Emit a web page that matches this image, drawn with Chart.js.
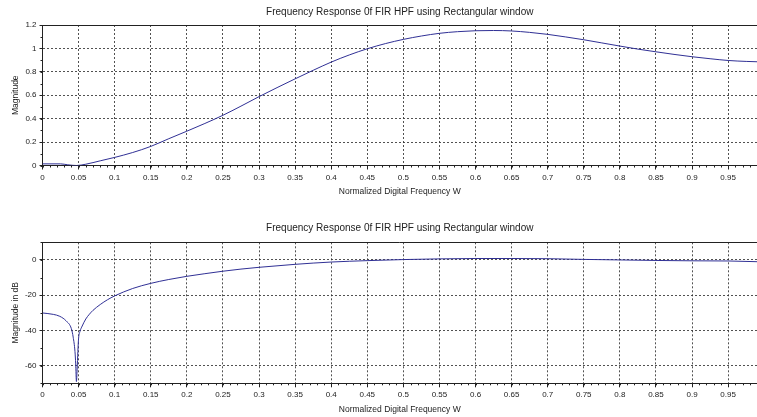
<!DOCTYPE html>
<html>
<head>
<meta charset="utf-8">
<script src="https://cdn.jsdelivr.net/npm/chart.js@4/dist/chart.umd.min.js"></script>
<style>
  html, body { margin: 0; padding: 0; background: #fff; }
  #wrap { position: relative; width: 757px; height: 417px; overflow: hidden; }
  #c1 { position: absolute; left: 0; top: 0; }
  #c2 { position: absolute; left: 0; top: 208px; }
</style>
</head>
<body>
<div id="wrap">
  <canvas id="c1" width="757" height="208"></canvas>
  <canvas id="c2" width="757" height="209"></canvas>
</div>
<script>
// ---- data ----
const titleText = 'Frequency Response 0f FIR HPF using Rectangular window';
const xLabel = 'Normalized Digital Frequency W';
const magLabel = 'Magnitude';
const dbLabel = 'Magnitude in dB';

const freq = [0, 0.025, 0.035, 0.047, 0.06, 0.08, 0.1, 0.125, 0.15, 0.175, 0.2, 0.225, 0.25, 0.275, 0.3,
  0.325, 0.35, 0.375, 0.4, 0.425, 0.45, 0.475, 0.5, 0.525, 0.55, 0.575, 0.6, 0.625, 0.65, 0.675,
  0.7, 0.725, 0.75, 0.775, 0.8, 0.825, 0.85, 0.875, 0.9, 0.925, 0.95, 0.975, 0.99];
const magnitude = [0.014, 0.014, 0.006, 0.0, 0.011, 0.04, 0.069, 0.111, 0.163, 0.229, 0.293, 0.359, 0.429, 0.507, 0.588,
  0.665, 0.74, 0.813, 0.883, 0.944, 0.997, 1.041, 1.077, 1.106, 1.129, 1.143, 1.151, 1.153, 1.149, 1.137,
  1.12, 1.098, 1.074, 1.047, 1.02, 0.994, 0.971, 0.949, 0.929, 0.912, 0.897, 0.889, 0.886];

const dbFreq = [0, 0.015, 0.024, 0.033, 0.04, 0.0425, 0.045, 0.046, 0.047, 0.048, 0.049, 0.05, 0.052,
  0.055, 0.06, 0.065, 0.07, 0.08, 0.09, 0.1, 0.125, 0.15, 0.175, 0.2, 0.225, 0.25, 0.275, 0.3, 0.35,
  0.4, 0.45, 0.5, 0.55, 0.6, 0.65, 0.7, 0.75, 0.8, 0.85, 0.9, 0.95, 0.99];
const magnitudeDb = [-30.1, -30.9, -32, -34.7, -39, -43.8, -52, -59, -69, -62, -52, -44.5, -40.5,
  -37.5, -33.5, -30.8, -28.6, -25.3, -22.6, -20.4, -16.2, -13.3, -11.1, -9.3, -7.8, -6.4, -5.2, -4.2, -2.5,
  -1.2, -0.4, 0.2, 0.6, 0.8, 0.8, 0.7, 0.3, 0.0, -0.3, -0.5, -0.6, -1.0];

const freqTicks = [0, 0.05, 0.1, 0.15, 0.2, 0.25, 0.3, 0.35, 0.4, 0.45, 0.5, 0.55, 0.6, 0.65, 0.7, 0.75, 0.8, 0.85, 0.9, 0.95];
const magTicks = [0, 0.2, 0.4, 0.6, 0.8, 1, 1.2];
const dbTicks = [-60, -40, -20, 0];

// ---- styling ----
const FONT = 'Liberation Sans, Arial, sans-serif';
const TEXT = '#222';
const LINE = '#303095';
const GRID = 'rgba(50,50,50,0.85)';

const minorTicks = {
  id: 'minorTicks',
  afterDraw(chart, args, opts) {
    const { ctx, chartArea: a, scales: { x, y } } = chart;
    ctx.save();
    ctx.strokeStyle = TEXT;
    ctx.lineWidth = 1;
    ctx.setLineDash([]);
    ctx.beginPath();
    const top = Math.round(a.top) + 0.5;
    ctx.moveTo(a.left, top); ctx.lineTo(a.right, top);
    for (let i = 0; x.min + i * opts.xStep <= x.max + 1e-9; i++) {
      const px = Math.round(x.getPixelForValue(x.min + i * opts.xStep)) + 0.5;
      ctx.moveTo(px, a.bottom); ctx.lineTo(px, a.bottom + 2);
    }
    for (let i = 0; y.min + i * opts.yStep <= y.max + 1e-9; i++) {
      const py = Math.round(y.getPixelForValue(y.min + i * opts.yStep)) + 0.5;
      ctx.moveTo(a.left - 2, py); ctx.lineTo(a.left, py);
    }
    ctx.stroke();
    ctx.restore();
  }
};

function fmt(v) { return String(+Number(v).toFixed(2)); }

function makeChart(el, xs, ys, yTicks, yMin, yMax, yLabel, minorY, lay) {
  return new Chart(el, {
    type: 'line',
    data: {
      datasets: [{
        data: xs.map((x, i) => ({ x: x, y: ys[i] })),
        borderColor: LINE,
        borderWidth: 1,
        pointRadius: 0,
        fill: false,
        cubicInterpolationMode: 'monotone'
      }]
    },
    options: {
      responsive: false,
      animation: false,
      layout: { padding: 0 },
      plugins: {
        legend: { display: false },
        tooltip: { enabled: false },
        title: {
          display: true,
          text: titleText,
          fullSize: false,
          color: TEXT,
          font: { family: FONT, size: 10, weight: 'normal' },
          padding: { top: lay.tTop, bottom: lay.tBottom }
        },
        minorTicks: { xStep: 0.01, yStep: minorY }
      },
      scales: {
        x: {
          type: 'linear',
          min: 0,
          max: 0.99,
          afterBuildTicks: s => { s.ticks = freqTicks.map(v => ({ value: v })); },
          afterFit: s => { s.height = lay.xH; },
          ticks: {
            color: TEXT, padding: 3, maxRotation: 0, autoSkip: false,
            font: { family: FONT, size: 8 },
            callback: v => fmt(v)
          },
          grid: { color: GRID, tickColor: TEXT, tickLength: 4, lineWidth: 1 },
          border: { display: true, color: TEXT, dash: [2, 2] },
          title: {
            display: true, text: xLabel, color: TEXT,
            font: { family: FONT, size: 8.5 },
            padding: { top: 0, bottom: lay.xTitleB }
          }
        },
        y: {
          type: 'linear',
          min: yMin,
          max: yMax,
          afterBuildTicks: s => { s.ticks = yTicks.map(v => ({ value: v })); },
          afterFit: s => { s.width = 42.5; },
          ticks: {
            color: TEXT, padding: 3, autoSkip: false,
            font: { family: FONT, size: 8 },
            callback: v => fmt(v)
          },
          grid: { color: GRID, tickColor: TEXT, tickLength: 3, lineWidth: 1 },
          border: { display: true, color: TEXT, dash: [2, 2] },
          title: {
            display: true, text: yLabel, color: TEXT,
            font: { family: FONT, size: 8.5 },
            padding: { top: 11, bottom: 0 }
          }
        }
      }
    },
    plugins: [minorTicks]
  });
}

makeChart(document.getElementById('c1'), freq, magnitude, magTicks, 0, 1.2, magLabel, 0.1,
  { tTop: 6.5, tBottom: 6.5, xH: 42.5, xTitleB: 11 });
makeChart(document.getElementById('c2'), dbFreq, magnitudeDb, dbTicks, -70, 10, dbLabel, 10,
  { tTop: 14.3, tBottom: 8, xH: 33.7, xTitleB: 2.3 });
</script>
</body>
</html>
